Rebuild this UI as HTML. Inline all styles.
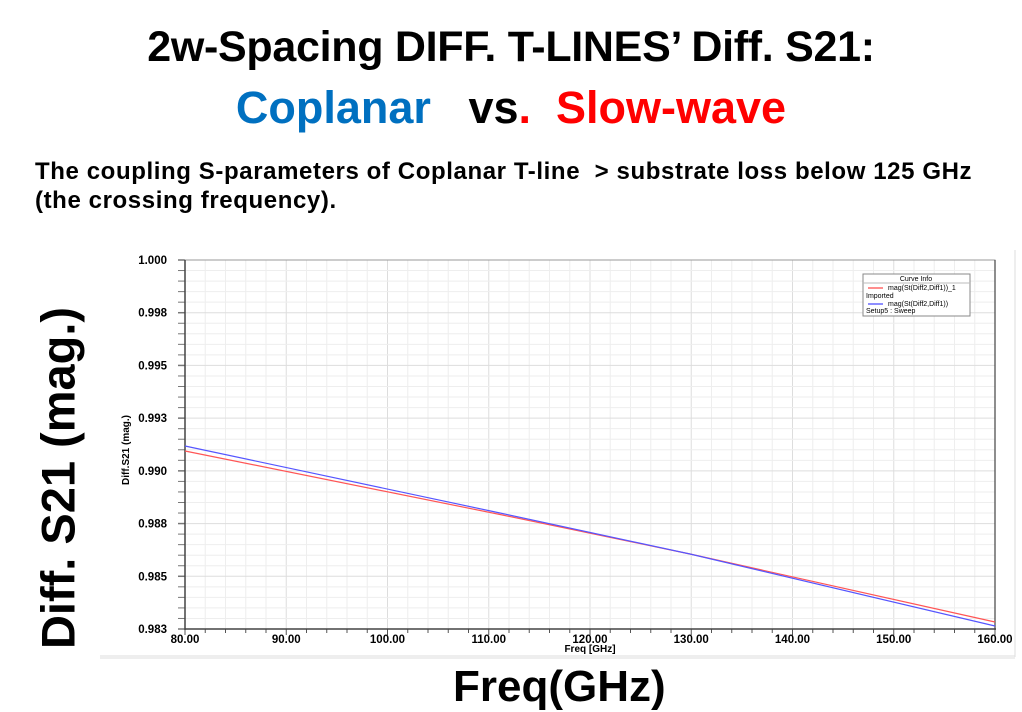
<!DOCTYPE html>
<html><head><style>
body{margin:0;width:1022px;height:710px;overflow:hidden;background:#fff;font-family:"Liberation Sans",Arial,sans-serif;position:relative}
.t{position:absolute;font-weight:bold;white-space:nowrap}
</style></head><body>
<div class="t" style="left:0;width:1022px;text-align:center;top:23px;font-size:43px;letter-spacing:-0.3px">2w-Spacing DIFF. T-LINES’ Diff. S21:</div>
<div class="t" style="left:0;width:1022px;text-align:center;top:82px;font-size:45px"><span style="color:#0070c0">Coplanar</span>&nbsp;&nbsp; vs<span style="color:#f00">.&nbsp; Slow-wave</span></div>
<div class="t" style="left:35px;top:157px;font-size:24px;line-height:29px;letter-spacing:0.6px">The coupling S-parameters of Coplanar T-line&nbsp; &gt; substrate loss below 125 GHz<br>(the crossing frequency).</div>
<div class="t" style="left:58px;top:478px;font-size:47px;transform:translate(-50%,-50%) rotate(-90deg)">Diff. S21 (mag.)</div>
<div class="t" style="left:453px;top:662px;font-size:44px">Freq(GHz)</div>
<svg style="position:absolute;left:0;top:0" width="1022" height="710">
<rect x="100" y="655" width="915" height="4" fill="#eee"/>
<line x1="1015" y1="250" x2="1015" y2="657" stroke="#ddd"/>
<g id="g"></g>
<rect x="185" y="260" width="810" height="369" fill="none" stroke="#999"/>
<line x1="995" y1="260" x2="995" y2="630" stroke="#444" stroke-width="1.2"/>
<line x1="185" y1="260" x2="185" y2="630" stroke="#444" stroke-width="1.5"/>
<line x1="185" y1="629" x2="996" y2="629" stroke="#444" stroke-width="1.5"/>
<polyline points="185,451 500,514.5 690,554 995,622" fill="none" stroke="#f55" stroke-width="1.2"/>
<polyline points="185,446 500,513 690,554 995,626" fill="none" stroke="#55f" stroke-width="1.2"/>
<g font-family="Liberation Sans,Arial,sans-serif" font-weight="bold" font-size="11.5" text-anchor="end" id="yl"></g>
<g font-family="Liberation Sans,Arial,sans-serif" font-weight="bold" font-size="11.5" text-anchor="middle" id="xl"></g>
<text x="590" y="652" font-family="Liberation Sans,Arial" font-weight="bold" font-size="10" text-anchor="middle">Freq [GHz]</text>
<text transform="translate(129,450) rotate(-90)" font-family="Liberation Sans,Arial" font-weight="bold" font-size="10" text-anchor="middle">Diff.S21 (mag.)</text>
<rect x="863" y="274" width="107" height="42" fill="#fff" stroke="#888"/>
<line x1="863" y1="283" x2="970" y2="283" stroke="#bbb"/>
<g font-family="Liberation Sans,Arial" font-size="7">
<text x="916" y="281" text-anchor="middle">Curve Info</text>
<line x1="868" y1="288" x2="883" y2="288" stroke="#f44" stroke-width="1.2"/>
<text x="888" y="290">mag(St(Diff2,Diff1))_1</text>
<text x="866" y="298">Imported</text>
<line x1="868" y1="304" x2="883" y2="304" stroke="#44f" stroke-width="1.2"/>
<text x="888" y="306">mag(St(Diff2,Diff1))</text>
<text x="866" y="313">Setup5 : Sweep</text>
</g>
</svg>
<script>
var ns="http://www.w3.org/2000/svg",g=document.getElementById('g'),yl=document.getElementById('yl'),xl=document.getElementById('xl');
function L(x1,y1,x2,y2,c,w){var l=document.createElementNS(ns,'line');l.setAttribute('x1',x1);l.setAttribute('y1',y1);l.setAttribute('x2',x2);l.setAttribute('y2',y2);l.setAttribute('stroke',c);l.setAttribute('stroke-width',w||1);g.appendChild(l);}
function T(p,x,y,s){var t=document.createElementNS(ns,'text');t.setAttribute('x',x);t.setAttribute('y',y);t.textContent=s;p.appendChild(t);}
for(var i=0;i<=40;i++){var x=185+i*810/40;L(x,260,x,629,i%5==0?'#ddd':'#eee',1);L(x,629,x,i%5==0?635:633,'#555',1);}
for(var j=0;j<=35;j++){var y=260+j*369/35;L(185,y,995,y,j%5==0?'#ddd':'#eee',1);L(178,y,185,y,'#777',j%5==0?1.5:1);}
var ys=['1.000','0.998','0.995','0.993','0.990','0.988','0.985','0.983'];
for(var k=0;k<8;k++)T(yl,167,264+k*369/7,ys[k]);
for(var m=0;m<9;m++)T(xl,185+m*810/8,643,(80+m*10).toFixed(2));
</script>
</body></html>
